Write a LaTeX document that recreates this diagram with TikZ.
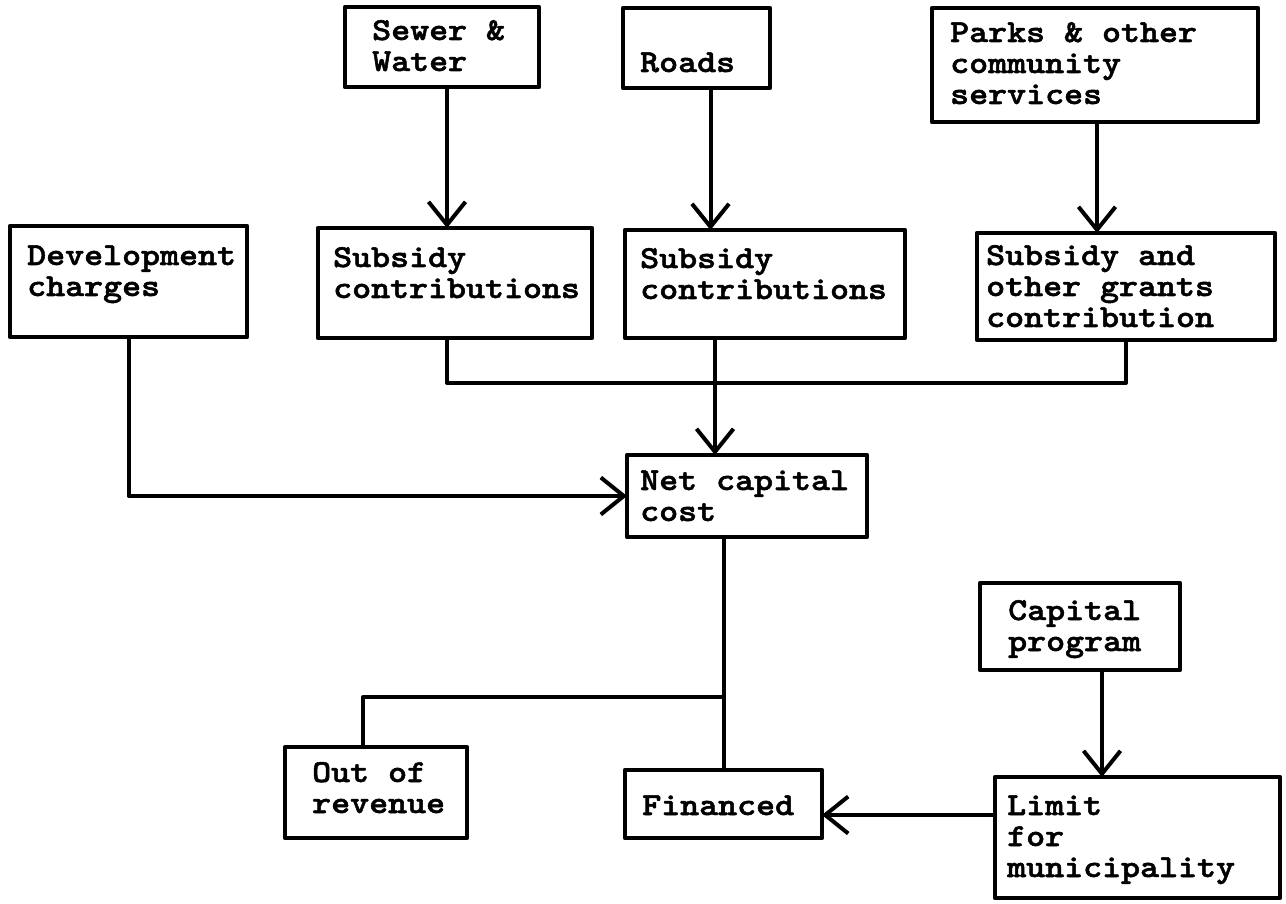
\documentclass[tikz,border=0pt]{standalone}
\usepackage{fontspec}
\newfontfamily\tw{lmmonolt10-bold.otf}[FakeStretch=1.13,FakeBold=1.6]
\usetikzlibrary{arrows.meta,fit,calc}
% multi-line label whose reference point is the first baseline
\newcommand\lns[1]{\parbox[t]{12cm}{\raggedright\baselineskip=31pt #1}}
\begin{document}
\begin{tikzpicture}[x=1pt,y=-1pt,
  box/.style={draw, line width=4.5pt, inner sep=0pt, outer sep=0pt, line join=round},
  lbl/.style={inner sep=0pt, anchor=base west, font=\tw\fontsize{32}{31}\selectfont},
  wire/.style={line width=4pt, line join=round, line cap=round},
  arr/.style={wire, -{Straight Barb[length=23pt,width=37pt,line width=4pt]}}]
\useasboundingbox[fill=white] (0,0) rectangle (1286,904);

% boxes
\node[box, fit={(345,7) (539,87)}] (sew) {};
\node[box, fit={(623,8) (770,88)}] (rds) {};
\node[box, fit={(932,8) (1258,122)}] (prk) {};
\node[box, fit={(10,226) (247,337)}] (dev) {};
\node[box, fit={(318,228) (592,338)}] (sb1) {};
\node[box, fit={(625,230) (905,338)}] (sb2) {};
\node[box, fit={(977,233) (1275,340)}] (sb3) {};
\node[box, fit={(627,455) (867,537)}] (net) {};
\node[box, fit={(980,583) (1180,670)}] (cap) {};
\node[box, fit={(285,747) (467,838)}] (out) {};
\node[box, fit={(625,770) (822,838)}] (fin) {};
\node[box, fit={(995,777) (1280,898)}] (lim) {};

% labels
\node[lbl] (sew-t) at ([xshift=27pt,yshift=-33pt]sew.north west) {\lns{Sewer \&\\Water}};
\node[lbl] (rds-t) at ([xshift=17pt,yshift=-64pt]rds.north west) {\lns{Roads}};
\node[lbl] (prk-t) at ([xshift=18pt,yshift=-34pt]prk.north west) {\lns{Parks \& other\\community\\services}};
\node[lbl] (dev-t) at ([xshift=17pt,yshift=-39pt]dev.north west) {\lns{Development\\charges}};
\node[lbl] (sb1-t) at ([xshift=15pt,yshift=-39pt]sb1.north west) {\lns{Subsidy\\contributions}};
\node[lbl] (sb2-t) at ([xshift=15pt,yshift=-38pt]sb2.north west) {\lns{Subsidy\\contributions}};
\node[lbl] (sb3-t) at ([xshift=9pt,yshift=-32pt]sb3.north west) {\lns{Subsidy and\\other grants\\contribution}};
\node[lbl] (net-t) at ([xshift=13pt,yshift=-35pt]net.north west) {\lns{Net capital\\cost}};
\node[lbl] (cap-t) at ([xshift=28pt,yshift=-37pt]cap.north west) {\lns{Capital\\program}};
\node[lbl] (out-t) at ([xshift=27pt,yshift=-35pt]out.north west) {\lns{Out of\\revenue}};
\node[lbl] (fin-t) at ([xshift=17pt,yshift=-45pt]fin.north west) {\lns{Financed}};
\node[lbl] (lim-t) at ([xshift=12pt,yshift=-38pt]lim.north west) {\lns{Limit\\for\\municipality}};

% services feed their subsidy boxes
\draw[arr] ([xshift=5pt]sew.south) -- ([xshift=5pt]sew.south |- sb1.north);
\draw[arr] ([xshift=14pt]rds.south) -- ([xshift=14pt]rds.south |- sb2.north);
\draw[arr] ([xshift=2pt]prk.south) -- ([xshift=2pt]prk.south |- sb3.north);

% subsidies gathered into the net capital cost
\coordinate (bus) at (0,383);
\draw[wire] ([xshift=-8pt]sb1.south) |- (bus -| sb3.south) -- (sb3.south);
\draw[arr] ([xshift=-50pt]sb2.south) -- ([xshift=-50pt]sb2.south |- net.north);

% development charges
\draw[arr] (dev.south) |- (net.west);

% split of the net capital cost
\coordinate (split) at (0,697);
\draw[wire] (net.south -| fin.north) -- (fin.north);
\draw[wire] (split -| fin.north) -| ([xshift=-13pt]out.north);

% capital program limit
\draw[arr] ([xshift=22pt]cap.south) -- ([xshift=22pt]cap.south |- lim.north);
\draw[arr] (lim.west |- fin.east) ++(0,11) coordinate (lf) -- (fin.east |- lf);
\end{tikzpicture}
\end{document}
